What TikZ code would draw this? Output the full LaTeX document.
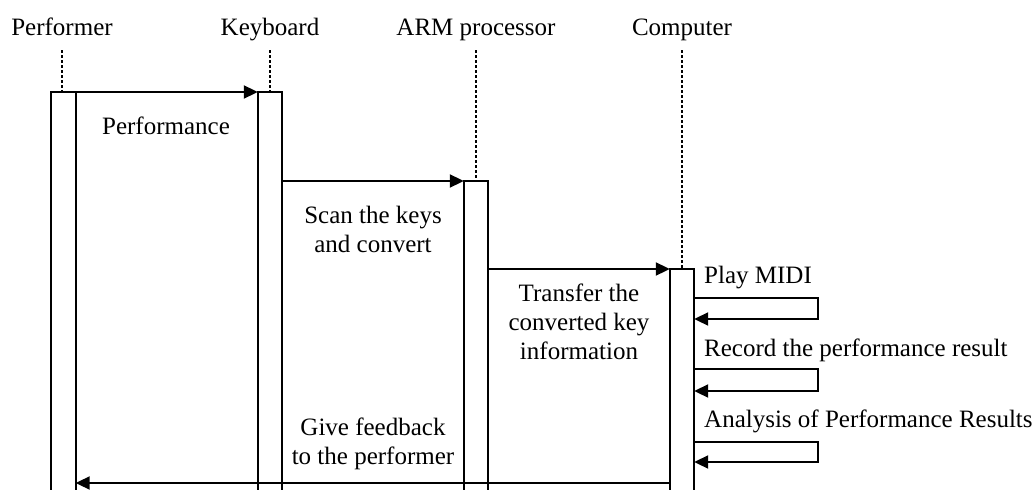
\documentclass[tikz,border=0pt]{standalone}
\usepackage{fontspec}
\setmainfont{Liberation Serif}
\usetikzlibrary{arrows.meta}
\begin{document}
\begin{tikzpicture}[x=1pt,y=-1pt,
  lbl/.style={font=\fontsize{25}{29}\selectfont, inner sep=0pt, align=center},
  life/.style={line width=1.5pt, dash pattern=on 3pt off 2pt},
  barbox/.style={draw=none, minimum width=24pt, inner sep=0pt},
  baredge/.style={line width=2pt},
  msg/.style={line width=2pt, -{Triangle[length=14pt,width=13pt]}}]
\useasboundingbox (0,0) rectangle (1034,490);

% actor names
\node[lbl, anchor=base] (pname) at (62,35) {Performer};
\node[lbl, anchor=base] (kname) at (270,35) {Keyboard};
\node[lbl, anchor=base] (aname) at (476,35) {ARM processor};
\node[lbl, anchor=base] (cname) at (682,35) {Computer};

% activation bars (open at the bottom)
\node[barbox, minimum height=420pt, anchor=north] (pbar) at (63.5,92) {};
\node[barbox, minimum height=420pt, anchor=north] (kbar) at (270,92) {};
\node[barbox, minimum height=330pt, anchor=north] (abar) at (476,181) {};
\node[barbox, minimum height=240pt, anchor=north] (cbar) at (682,269) {};
\foreach \b in {pbar,kbar,abar,cbar}
  \draw[baredge] (\b.south west) -- (\b.north west) -- (\b.north east) -- (\b.south east);

% lifelines above the bars
\draw[life] (62,50) -- (62,92);
\draw[life] (kbar.north) ++(0,-42) -- (kbar.north);
\draw[life] (abar.north) ++(0,-131) -- (abar.north);
\draw[life] (cbar.north) ++(0,-219) -- (cbar.north);

% messages between the participants
\draw[msg] (pbar.north east) -- (kbar.north west);
\draw[msg] (kbar.east |- abar.north) -- (abar.north west);
\draw[msg] (abar.east |- cbar.north) -- (cbar.north west);
\coordinate (fb) at (0,483);
\draw[msg] (cbar.west |- fb) -- (pbar.east |- fb);

% message labels
\node[lbl, anchor=base] (m1) at (166,134) {Performance};
\node[lbl, anchor=base] (m2) at (373,252) {Scan the keys\\and convert};
\node[lbl, anchor=base] (m3) at (579,359) {Transfer the\\converted key\\information};
\node[lbl, anchor=base] (m4) at (373,464) {Give feedback\\to the performer};

% self messages on the computer
\foreach \ya/\yb/\yt/\t [count=\i] in {298/319/283/Play MIDI,369/391/356/Record the performance result,442/462/427/Analysis of Performance Results}{
  \coordinate (s\i a) at (818,\ya);
  \coordinate (s\i b) at (818,\yb);
  \draw[msg] (cbar.east |- s\i a) -- (s\i a) -- (s\i b) -- (cbar.east |- s\i b);
  \node[lbl, anchor=base west] (t\i) at (704,\yt) {\t};
}
\end{tikzpicture}
\end{document}
